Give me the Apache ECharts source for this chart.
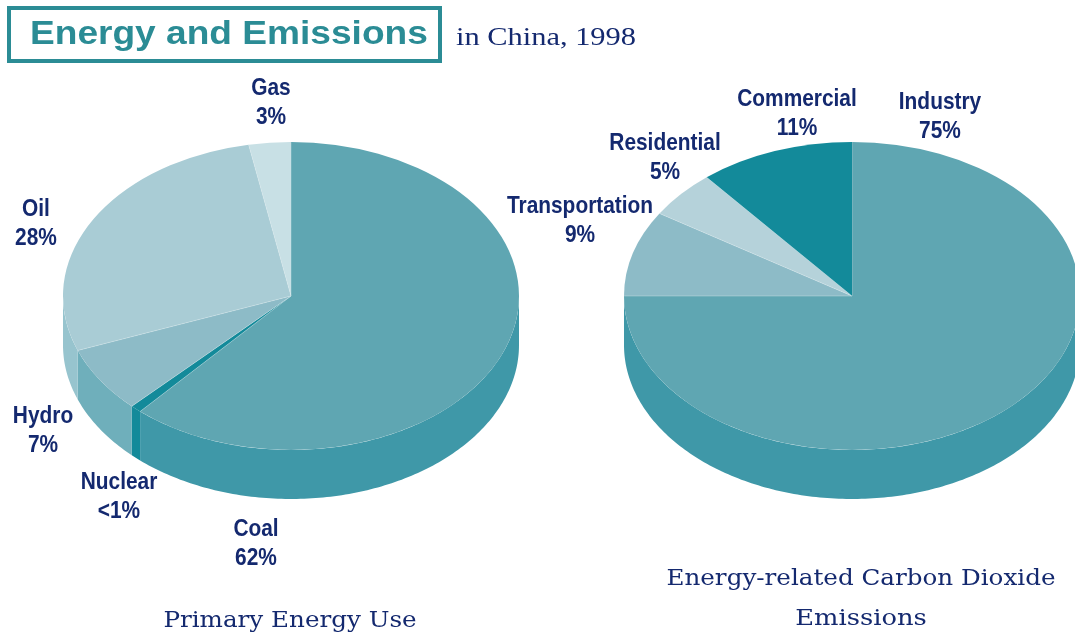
<!DOCTYPE html>
<html>
<head>
<meta charset="utf-8">
<style>
  html, body { margin: 0; padding: 0; background: #fff; }
  #chart { width: 1075px; height: 632px; }
</style>
<script src="https://cdn.jsdelivr.net/npm/echarts@6/dist/echarts.min.js"></script>
</head>
<body>
<div id="chart"></div>
<script>
// clockwise from 12 o'clock
var energyNames = ['Coal', 'Nuclear', 'Hydro', 'Oil', 'Gas']
var energyValues = [62, 0.8, 7, 28, 3]
var energyLabels = ['62%', '<1%', '7%', '28%', '3%']
var energyTopColors = ['#5fa6b2', '#138a9a', '#8dbbc7', '#a9ccd5', '#c8e0e5']
var energyWallColors = ['#3f98a8', '#138a9a', '#6fafbb', '#97c4ce', '#c8e0e5']

var co2Names = ['Industry', 'Transportation', 'Residential', 'Commercial']
var co2Values = [75, 9, 5, 11]
var co2Labels = ['75%', '9%', '5%', '11%']
var co2TopColors = ['#5fa6b2', '#8dbbc7', '#b5d2da', '#138a9a']
var co2WallColors = ['#3f98a8', '#6fafbb', '#b5d2da', '#138a9a']

// top centre of each label, same order as the names above
var energyLabelPos = [[256, 515], [119, 468], [43, 402], [36, 195], [271, 74]]
var co2LabelPos = [[940, 88], [580, 192], [665, 129], [797, 85]]

var navy = '#14296f'
var teal = '#2b8c95'
var rx = 228
var ry = 154
var depth = 49

function pieSeries (values, cx, cy, topColors, wallColors) {
  var total = values.reduce(function (a, b) { return a + b }, 0)
  var starts = []
  var sum = 0
  values.forEach(function (v) {
    starts.push(sum / total * Math.PI * 2)
    sum += v
  })

  return {
    type: 'custom',
    coordinateSystem: 'none',
    silent: true,
    animation: false,
    data: values.map(function (v) { return [v] }),
    renderItem: function (params, api) {
      var i = params.dataIndex
      var a0 = starts[i]
      var a1 = a0 + api.value(0) / total * Math.PI * 2
      var children = []

      // side wall, only the part facing front (90 to 270 deg)
      var w0 = Math.max(a0, Math.PI / 2)
      var w1 = Math.min(a1, Math.PI * 1.5)
      if (w1 > w0) {
        var upper = []
        var lower = []
        var steps = Math.ceil((w1 - w0) * 60)
        for (var s = 0; s <= steps; s++) {
          var t = w0 + (w1 - w0) * s / steps
          var px = cx + rx * Math.sin(t)
          var py = cy - ry * Math.cos(t)
          upper.push([px, py])
          lower.unshift([px, py + depth])
        }
        children.push({
          type: 'polygon',
          shape: { points: upper.concat(lower) },
          style: { fill: wallColors[i] }
        })
      }

      children.push({
        type: 'sector',
        shape: {
          cx: cx,
          cy: cy,
          r: rx,
          r0: 0,
          startAngle: a0 - Math.PI / 2,
          endAngle: a1 - Math.PI / 2,
          clockwise: true
        },
        originX: cx,
        originY: cy,
        scaleY: ry / rx,
        style: { fill: topColors[i] }
      })

      // faint seam along the leading edge of the slice
      children.push({
        type: 'line',
        shape: {
          x1: cx,
          y1: cy,
          x2: cx + rx * Math.sin(a0),
          y2: cy - ry * Math.cos(a0)
        },
        style: { stroke: '#dcebee', lineWidth: 0.6, opacity: 0.6 }
      })

      return { type: 'group', children: children }
    }
  }
}

function sliceLabels (names, labels, pos) {
  return names.map(function (name, i) {
    return {
      type: 'text',
      x: pos[i][0],
      y: pos[i][1],
      scaleX: 0.87,
      style: {
        text: name + '\n' + labels[i],
        fill: navy,
        font: 'bold 24px "Liberation Sans", sans-serif',
        lineHeight: 29,
        align: 'center',
        verticalAlign: 'top'
      }
    }
  })
}

function caption (text, x, y, widen) {
  return {
    type: 'text',
    x: x,
    y: y,
    scaleX: widen,
    style: {
      text: text,
      fill: navy,
      font: '23px "DejaVu Serif", serif',
      align: 'center',
      verticalAlign: 'middle'
    }
  }
}

var chart = echarts.init(document.getElementById('chart'))

chart.setOption({
  animation: false,
  backgroundColor: '#fff',
  series: [
    pieSeries(energyValues, 291, 296, energyTopColors, energyWallColors),
    pieSeries(co2Values, 852, 296, co2TopColors, co2WallColors)
  ],
  graphic: [
    {
      type: 'rect',
      shape: { x: 9, y: 8, width: 431, height: 53 },
      style: { fill: '#fff', stroke: teal, lineWidth: 4 }
    },
    {
      type: 'text',
      x: 30,
      y: 35,
      scaleX: 1.124,
      style: {
        text: 'Energy and Emissions',
        fill: teal,
        font: 'bold 33px "Liberation Sans", sans-serif',
        align: 'left',
        verticalAlign: 'middle'
      }
    },
    {
      type: 'text',
      x: 456,
      y: 38,
      scaleX: 1.17,
      style: {
        text: 'in China, 1998',
        fill: navy,
        font: '26px "Liberation Serif", serif',
        align: 'left',
        verticalAlign: 'middle'
      }
    },
    caption('Primary Energy Use', 290, 621, 1.07),
    caption('Energy-related Carbon Dioxide', 861, 579, 1.07),
    caption('Emissions', 861, 619, 1.12)
  ].concat(sliceLabels(energyNames, energyLabels, energyLabelPos))
    .concat(sliceLabels(co2Names, co2Labels, co2LabelPos))
})
</script>
</body>
</html>
